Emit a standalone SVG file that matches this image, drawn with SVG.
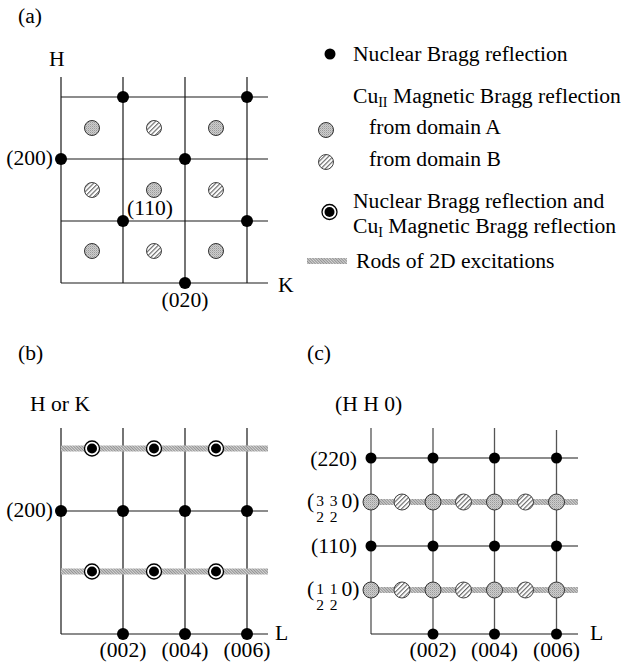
<svg xmlns="http://www.w3.org/2000/svg" width="629" height="667" viewBox="0 0 629 667" font-family="'Liberation Serif', Tinos, 'DejaVu Serif', serif">
<style>
text{font-family:'Liberation Serif',Tinos,'DejaVu Serif',serif;font-size:21.6px;fill:#000}
.frac{font-size:15.5px}
.sub{font-size:14px}
.grid{stroke:#1a1a1a;stroke-width:1.2;fill:none}
.gridc{stroke:#555;stroke-width:1.3;fill:none}
.dot{fill:#000}
.magA{fill:url(#stip);stroke:#333;stroke-width:1}
.magB{fill:url(#hatch);stroke:#444;stroke-width:1}
.bo{fill:#fff;stroke:#000;stroke-width:1.3}
.rod{fill:url(#rodp)}
.e{text-anchor:end}
.m{text-anchor:middle}
</style>
<defs>
<pattern id="stip" width="2" height="2" patternUnits="userSpaceOnUse">
<rect width="2" height="2" fill="#cdcdcd"/>
<rect width="1" height="1" fill="#9a9a9a"/>
<rect x="1" y="1" width="1" height="1" fill="#b5b5b5"/>
</pattern>
<pattern id="hatch" width="3.2" height="3.2" patternUnits="userSpaceOnUse" patternTransform="rotate(45)">
<rect width="3.2" height="3.2" fill="#fff"/>
<line x1="0.6" y1="0" x2="0.6" y2="3.2" stroke="#555" stroke-width="1"/>
</pattern>
<pattern id="rodp" width="2" height="2" patternUnits="userSpaceOnUse" patternTransform="rotate(-45)">
<rect width="2" height="2" fill="#d4d4d4"/>
<line x1="0.5" y1="0" x2="0.5" y2="2" stroke="#8a8a8a" stroke-width="0.9"/>
</pattern>
</defs>
<rect width="629" height="667" fill="#fff"/>

<!-- Panel (a) -->
<g id="panel-a-labels">
<text x="18" y="23">(a)</text>
<text x="49" y="66">H</text>
<text x="278" y="292">K</text>
<text x="53" y="165" class="e">(200)</text>
<text x="127" y="215">(110)</text>
<text x="185" y="307" class="m">(020)</text>
</g>
<g id="connectors">
<g id="grid-a">
<path class="grid" d="M61 77V283M123 77V283M185 77V283M247 77V283M61 97H268M61 159H268M61 221H268M61 283H268"/>
</g>
<g id="grid-b">
<path class="grid" d="M61 428V634M123 428V634M185 428V634M247 428V634M61 511H268M61 634H268"/>
<rect class="rod" x="61" y="445.5" width="207" height="6"/>
<rect class="rod" x="61" y="568.5" width="207" height="6"/>
</g>
<g id="grid-c">
<rect class="rod" x="371" y="499" width="207" height="6"/>
<rect class="rod" x="371" y="587" width="207" height="6"/>
<path class="gridc" d="M371 428V634M433 428V634M494.5 428V634M556.5 430V634"/>
<path class="grid" d="M371 458H578M371 546H578M371 634H578"/>
</g>
<g id="legend-rod">
<rect class="rod" x="307" y="258" width="40" height="6"/>
</g>
</g>

<g id="nodes-a">
<g id="a-n1"><circle class="dot" cx="123" cy="97" r="6"/></g>
<g id="a-n2"><circle class="dot" cx="247" cy="97" r="6"/></g>
<g id="a-n3"><circle class="dot" cx="61" cy="159" r="6"/></g>
<g id="a-n4"><circle class="dot" cx="185" cy="159" r="6"/></g>
<g id="a-n5"><circle class="dot" cx="123" cy="221" r="6"/></g>
<g id="a-n6"><circle class="dot" cx="247" cy="221" r="6"/></g>
<g id="a-n7"><circle class="dot" cx="185" cy="283" r="6"/></g>
<g id="a-m1"><circle class="magA" cx="92" cy="128" r="7.5"/></g>
<g id="a-m2"><circle class="magB" cx="154" cy="128" r="7.5"/></g>
<g id="a-m3"><circle class="magA" cx="216" cy="128" r="7.5"/></g>
<g id="a-m4"><circle class="magB" cx="92" cy="190" r="7.5"/></g>
<g id="a-m5"><circle class="magA" cx="154" cy="190" r="7.5"/></g>
<g id="a-m6"><circle class="magB" cx="216" cy="190" r="7.5"/></g>
<g id="a-m7"><circle class="magA" cx="92" cy="251" r="7.5"/></g>
<g id="a-m8"><circle class="magB" cx="154" cy="251" r="7.5"/></g>
<g id="a-m9"><circle class="magA" cx="216" cy="251" r="7.5"/></g>
</g>

<!-- Legend -->
<g id="legend">
<g id="leg-nuclear"><circle class="dot" cx="330" cy="54" r="5.5"/><text x="353" y="61">Nuclear Bragg reflection</text></g>
<g id="leg-cu2"><text x="353" y="103">Cu<tspan class="sub" dy="4">II</tspan><tspan dy="-4"> Magnetic Bragg reflection</tspan></text></g>
<g id="leg-a"><circle class="magA" cx="326" cy="130" r="7.5"/><text x="369" y="134">from domain A</text></g>
<g id="leg-b"><circle class="magB" cx="326" cy="162" r="7.5"/><text x="369" y="166">from domain B</text></g>
<g id="leg-both"><circle class="bo" cx="329.5" cy="212" r="7.5"/><circle class="dot" cx="329.5" cy="212" r="5"/>
<text x="353" y="208">Nuclear Bragg reflection and</text>
<text x="353" y="233">Cu<tspan class="sub" dy="4">I</tspan><tspan dy="-4"> Magnetic Bragg reflection</tspan></text></g>
<g id="leg-rods"><text x="356" y="268">Rods of 2D excitations</text></g>
</g>

<!-- Panel (b) -->
<g id="panel-b-labels">
<text x="18" y="360">(b)</text>
<text x="30" y="411">H or K</text>
<text x="53" y="517" class="e">(200)</text>
<text x="275" y="640">L</text>
<text x="123" y="657" class="m">(002)</text>
<text x="185" y="657" class="m">(004)</text>
<text x="247" y="657" class="m">(006)</text>
</g>
<g id="nodes-b">
<g id="b-n1"><circle class="dot" cx="61" cy="511" r="6"/></g>
<g id="b-n2"><circle class="dot" cx="123" cy="511" r="6"/></g>
<g id="b-n3"><circle class="dot" cx="185" cy="511" r="6"/></g>
<g id="b-n4"><circle class="dot" cx="247" cy="511" r="6"/></g>
<g id="b-n5"><circle class="dot" cx="123" cy="634" r="6"/></g>
<g id="b-n6"><circle class="dot" cx="185" cy="634" r="6"/></g>
<g id="b-n7"><circle class="dot" cx="247" cy="634" r="6"/></g>
<g id="b-c1"><circle class="bo" cx="92" cy="448.5" r="7.5"/><circle class="dot" cx="92" cy="448.5" r="5"/></g>
<g id="b-c2"><circle class="bo" cx="154" cy="448.5" r="7.5"/><circle class="dot" cx="154" cy="448.5" r="5"/></g>
<g id="b-c3"><circle class="bo" cx="216" cy="448.5" r="7.5"/><circle class="dot" cx="216" cy="448.5" r="5"/></g>
<g id="b-c4"><circle class="bo" cx="92" cy="571.5" r="7.5"/><circle class="dot" cx="92" cy="571.5" r="5"/></g>
<g id="b-c5"><circle class="bo" cx="154" cy="571.5" r="7.5"/><circle class="dot" cx="154" cy="571.5" r="5"/></g>
<g id="b-c6"><circle class="bo" cx="216" cy="571.5" r="7.5"/><circle class="dot" cx="216" cy="571.5" r="5"/></g>
</g>

<!-- Panel (c) -->
<g id="panel-c-labels">
<text x="307" y="360">(c)</text>
<text x="335" y="411">(H H 0)</text>
<text x="357" y="466" class="e">(220)</text>
<text x="357" y="553" class="e">(110)</text>
<g id="lbl-32"><text x="307" y="508">(</text><text class="frac m" x="320" y="506">3</text><text class="frac m" x="320" y="521.5">2</text><text class="frac m" x="333.5" y="506">3</text><text class="frac m" x="333.5" y="521.5">2</text><text x="341.5" y="508">0)</text></g>
<g id="lbl-12"><text x="307" y="596">(</text><text class="frac m" x="320" y="594">1</text><text class="frac m" x="320" y="609.5">2</text><text class="frac m" x="333.5" y="594">1</text><text class="frac m" x="333.5" y="609.5">2</text><text x="341.5" y="596">0)</text></g>
<text x="590" y="640">L</text>
<text x="433" y="657" class="m">(002)</text>
<text x="494.5" y="657" class="m">(004)</text>
<text x="556.5" y="657" class="m">(006)</text>
</g>
<g id="nodes-c">
<g id="c-n1"><circle class="dot" cx="371" cy="458" r="5.5"/></g>
<g id="c-n2"><circle class="dot" cx="433" cy="458" r="5.5"/></g>
<g id="c-n3"><circle class="dot" cx="494.5" cy="458" r="5.5"/></g>
<g id="c-n4"><circle class="dot" cx="556.5" cy="458" r="5.5"/></g>
<g id="c-n5"><circle class="dot" cx="371" cy="546" r="5.5"/></g>
<g id="c-n6"><circle class="dot" cx="433" cy="546" r="5.5"/></g>
<g id="c-n7"><circle class="dot" cx="494.5" cy="546" r="5.5"/></g>
<g id="c-n8"><circle class="dot" cx="556.5" cy="546" r="5.5"/></g>
<g id="c-n9"><circle class="dot" cx="433" cy="634" r="5.5"/></g>
<g id="c-n10"><circle class="dot" cx="494.5" cy="634" r="5.5"/></g>
<g id="c-n11"><circle class="dot" cx="556.5" cy="634" r="5.5"/></g>
<g id="c-a1"><circle class="magA" cx="371" cy="502" r="8"/></g>
<g id="c-b1"><circle class="magB" cx="402" cy="502" r="8"/></g>
<g id="c-a2"><circle class="magA" cx="433" cy="502" r="8"/></g>
<g id="c-b2"><circle class="magB" cx="463.5" cy="502" r="8"/></g>
<g id="c-a3"><circle class="magA" cx="494.5" cy="502" r="8"/></g>
<g id="c-b3"><circle class="magB" cx="525.5" cy="502" r="8"/></g>
<g id="c-a4"><circle class="magA" cx="556.5" cy="502" r="8"/></g>
<g id="c-a5"><circle class="magA" cx="371" cy="590" r="8"/></g>
<g id="c-b4"><circle class="magB" cx="402" cy="590" r="8"/></g>
<g id="c-a6"><circle class="magA" cx="433" cy="590" r="8"/></g>
<g id="c-b5"><circle class="magB" cx="463.5" cy="590" r="8"/></g>
<g id="c-a7"><circle class="magA" cx="494.5" cy="590" r="8"/></g>
<g id="c-b6"><circle class="magB" cx="525.5" cy="590" r="8"/></g>
<g id="c-a8"><circle class="magA" cx="556.5" cy="590" r="8"/></g>
</g>
</svg>
